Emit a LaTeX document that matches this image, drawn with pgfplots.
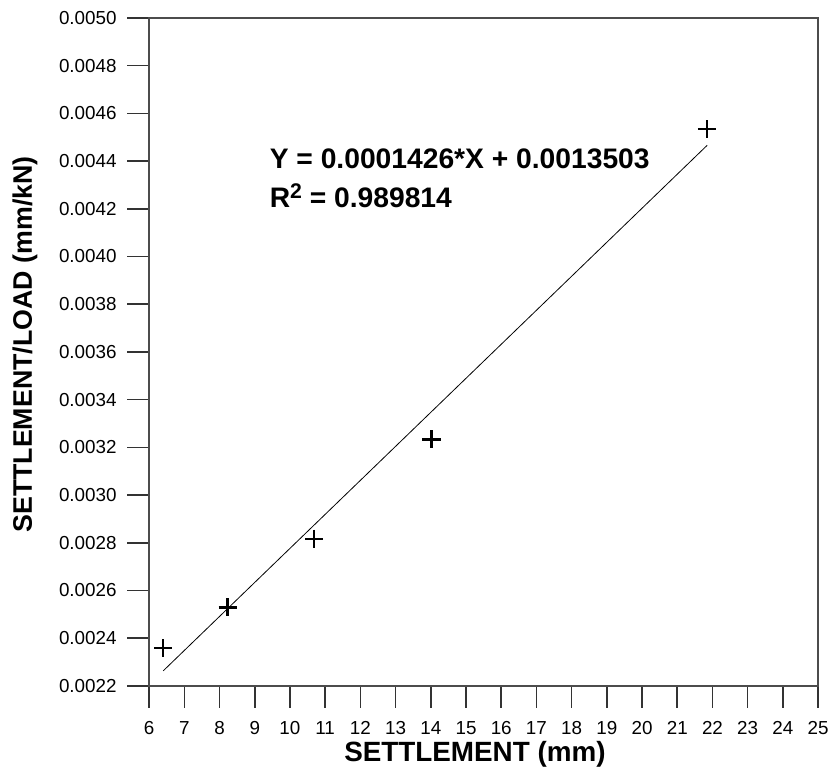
\documentclass[border=0pt]{standalone}
\usepackage{fontspec}
\setmainfont{Liberation Sans}
\usepackage{pgfplots}
\pgfplotsset{compat=1.18}

\begin{document}
\begin{tikzpicture}
    \begin{axis}[%
        name=main,
        scale only axis,
        width=504.75pt,
        height=504pt,
        xmin=6, xmax=25,
        ymin=0.0022, ymax=0.0050,
        xtick={6,7,...,25},
        ytick={0.0022,0.0024,...,0.0050},
        xtick pos=left,
        ytick pos=left,
        tick align=outside,
        major tick length=16.5pt,
        tick style={black!80, line width=1.2pt},
        axis line style={black!70, line width=1pt},
        scaled y ticks=false,
        /pgf/number format/assume math mode=true,
        yticklabel style={xshift=-4.5pt, /pgf/number format/.cd, fixed, fixed zerofill, precision=4},
        xticklabel style={yshift=-7pt},
        tick label style={font=\fontsize{14.2}{16}\selectfont},
        ylabel style={font=\bfseries\fontsize{20.2}{23}\selectfont,
            at={(axis description cs:-0.1857,0.511)}, anchor=center},
        xlabel style={font=\bfseries\fontsize{21}{24}\selectfont,
            at={(axis description cs:0.487,-0.1131)}, anchor=base},
        xlabel={SETTLEMENT (mm)},
        ylabel={SETTLEMENT/LOAD (mm/kN)},
        clip=false,
        ]
        % data points
        \addplot [only marks, mark=+, mark size=6.8pt, line width=1.8pt, black]
        coordinates {
            (6.40, 0.002358)
            (8.23, 0.002529)
            (10.69, 0.002817)
            (14.02, 0.003233)
            (21.84, 0.004533)
        };
        % fitted line Y = 0.0001426*X + 0.0013503
        \addplot [black, line width=0.6pt]
        coordinates {
            (6.40, 0.002263)
            (21.85, 0.004466)
        };
        \node[anchor=base west, inner sep=0pt, font=\bfseries\fontsize{21.3}{24}\selectfont]
            at (axis cs:9.42,0.004367) {Y = 0.0001426*X + 0.0013503};
        \node[anchor=base west, inner sep=0pt, font=\bfseries\fontsize{21.3}{24}\selectfont]
            at (axis cs:9.42,0.004205) {R\raisebox{7pt}{\fontsize{16}{16}\selectfont 2} = 0.989814};
    \end{axis}
    \useasboundingbox (main.south west) ++(-112.5pt,-64.5pt) rectangle ([shift={(7.5pt,13.5pt)}]main.north east);
\end{tikzpicture}
\end{document}
